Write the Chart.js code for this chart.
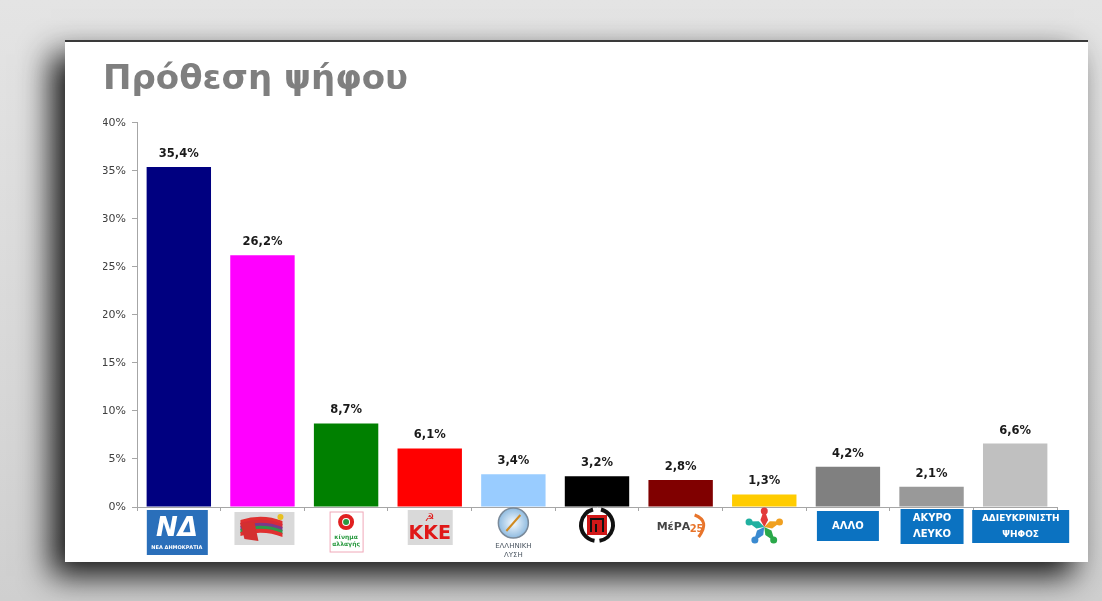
<!DOCTYPE html>
<html>
<head>
<meta charset="utf-8">
<script src="https://cdn.jsdelivr.net/npm/chart.js@4/dist/chart.umd.min.js"></script>
<style>
  html, body { margin: 0; padding: 0; }
  body {
    width: 1102px; height: 601px; overflow: hidden; position: relative;
    background: linear-gradient(#e4e4e4, #d6d6d6 70%, #cfcfcf);
  }
  #card {
    position: absolute; left: 65px; top: 40px; width: 1023px; height: 522px;
    background: #fff; border-top: 2px solid #3a3a3a; box-sizing: border-box;
    box-shadow: -14px 14px 30px rgba(0,0,0,0.9);
  }
  #card canvas { position: absolute; left: 0; top: -2px; }
</style>
</head>
<body>
<div id="card"><canvas id="grafico" width="1023" height="522"></canvas></div>
<script>
  // Datos del gráfico
  const partidos = ['ΝΔ', 'ΣΥΡΙΖΑ', 'ΚΙΝΑΛ', 'ΚΚΕ', 'Ελληνική Λύση', 'Χρυσή Αυγή', 'ΜέΡΑ25', 'Πλεύση Ελευθερίας', 'ΑΛΛΟ', 'ΑΚΥΡΟ ΛΕΥΚΟ', 'ΑΔΙΕΥΚΡΙΝΙΣΤΗ ΨΗΦΟΣ'];
  const porcentajes = [35.4, 26.2, 8.7, 6.1, 3.4, 3.2, 2.8, 1.3, 4.2, 2.1, 6.6];
  const coloresBarras = ['#000080', '#ff00ff', '#008000', '#ff0000', '#99ccff', '#000000', '#800000', '#ffcc00', '#808080', '#999999', '#c0c0c0'];
  const ticksY = [0, 5, 10, 15, 20, 25, 30, 35, 40];

  const AZUL = '#0b72c1';

  // Caja azul con texto blanco (ΑΛΛΟ, ΑΚΥΡΟ...)
  function cajaTexto(ctx, x0, y0, w, h, lineas, tam) {
    ctx.fillStyle = AZUL;
    ctx.fillRect(x0, y0, w, h);
    ctx.fillStyle = '#fff';
    ctx.font = 'bold ' + (tam || 10) + 'px "DejaVu Sans"';
    ctx.textAlign = 'center';
    ctx.textBaseline = 'middle';
    const paso = 16;
    const inicio = y0 + h / 2 - (lineas.length - 1) * paso / 2;
    lineas.forEach((l, i) => ctx.fillText(l, x0 + w / 2, inicio + i * paso));
  }

  // Dibujos simplificados de los logos, uno por partido
  const logos = [
    function(ctx, cx, top) { // ΝΔ
      ctx.fillStyle = '#2a6fba';
      ctx.fillRect(cx - 32, top + 3, 61, 45);
      ctx.fillStyle = '#fff';
      ctx.textAlign = 'center';
      ctx.textBaseline = 'middle';
      ctx.font = 'bold italic 26px "DejaVu Sans"';
      ctx.fillText('ΝΔ', cx - 2, top + 22);
      ctx.font = 'bold 5px "DejaVu Sans"';
      ctx.fillText('ΝΕΑ ΔΗΜΟΚΡΑΤΙΑ', cx - 2, top + 41);
    },
    function(ctx, cx, top) { // ΣΥΡΙΖΑ
      ctx.fillStyle = '#d9d9d9';
      ctx.fillRect(cx - 28, top + 5, 60, 33);
      const franjas = ['#e03030', '#d62a3a', '#7a3a8a', '#2e9a4a', '#e03030'];
      franjas.forEach((c, i) => {
        ctx.fillStyle = c;
        ctx.beginPath();
        ctx.moveTo(cx - 22, top + 13 + i * 3);
        ctx.quadraticCurveTo(cx, top + 6 + i * 3, cx + 20, top + 14 + i * 3);
        ctx.lineTo(cx + 20, top + 18 + i * 3);
        ctx.quadraticCurveTo(cx, top + 10 + i * 3, cx - 22, top + 17 + i * 3);
        ctx.fill();
      });
      ctx.fillStyle = '#d43030';
      ctx.beginPath();
      ctx.moveTo(cx - 22, top + 16);
      ctx.lineTo(cx - 8, top + 15);
      ctx.lineTo(cx - 4, top + 34);
      ctx.lineTo(cx - 18, top + 32);
      ctx.fill();
      ctx.fillStyle = '#e8c020';
      ctx.beginPath();
      ctx.arc(cx + 18, top + 10, 3, 0, Math.PI * 2);
      ctx.fill();
    },
    function(ctx, cx, top) { // ΚΙΝΑΛ
      ctx.fillStyle = '#fff';
      ctx.fillRect(cx - 16, top + 5, 33, 40);
      ctx.strokeStyle = '#f0a8b8';
      ctx.lineWidth = 1;
      ctx.strokeRect(cx - 16, top + 5, 33, 40);
      ctx.strokeStyle = '#e02020';
      ctx.lineWidth = 4;
      ctx.beginPath();
      ctx.arc(cx, top + 15, 6, 0, Math.PI * 2);
      ctx.stroke();
      ctx.fillStyle = '#2a9a40';
      ctx.beginPath();
      ctx.arc(cx, top + 15, 3, 0, Math.PI * 2);
      ctx.fill();
      ctx.font = 'bold 6px "DejaVu Sans"';
      ctx.textAlign = 'center';
      ctx.textBaseline = 'middle';
      ctx.fillText('κίνημα', cx, top + 30);
      ctx.fillText('αλλαγής', cx, top + 37);
    },
    function(ctx, cx, top) { // ΚΚΕ
      ctx.fillStyle = '#d9d9d9';
      ctx.fillRect(cx - 22, top + 3, 45, 35);
      ctx.fillStyle = '#e01818';
      ctx.textAlign = 'center';
      ctx.textBaseline = 'middle';
      ctx.font = 'bold 11px "DejaVu Sans"';
      ctx.fillText('☭', cx, top + 11);
      ctx.font = 'bold 19px "DejaVu Sans"';
      ctx.fillText('ΚΚΕ', cx, top + 27);
    },
    function(ctx, cx, top) { // Ελληνική Λύση
      const g = ctx.createRadialGradient(cx, top + 16, 2, cx, top + 16, 15);
      g.addColorStop(0, '#e8f2fb');
      g.addColorStop(1, '#8fbbe0');
      ctx.fillStyle = g;
      ctx.beginPath();
      ctx.arc(cx, top + 16, 15, 0, Math.PI * 2);
      ctx.fill();
      ctx.strokeStyle = '#7a8a9a';
      ctx.lineWidth = 1.5;
      ctx.stroke();
      ctx.strokeStyle = '#d08a20';
      ctx.lineWidth = 2;
      ctx.beginPath();
      ctx.moveTo(cx - 7, top + 24);
      ctx.lineTo(cx + 7, top + 8);
      ctx.stroke();
      ctx.fillStyle = '#4a5560';
      ctx.font = '7px "DejaVu Sans"';
      ctx.textAlign = 'center';
      ctx.textBaseline = 'middle';
      ctx.fillText('ΕΛΛΗΝΙΚΗ', cx, top + 39);
      ctx.fillText('ΛΥΣΗ', cx, top + 48);
    },
    function(ctx, cx, top) { // Χρυσή Αυγή
      ctx.strokeStyle = '#111';
      ctx.lineWidth = 4;
      ctx.beginPath();
      ctx.arc(cx, top + 18, 16, Math.PI * 0.55, Math.PI * 1.42);
      ctx.stroke();
      ctx.beginPath();
      ctx.arc(cx, top + 18, 16, Math.PI * 1.58, Math.PI * 2.45);
      ctx.stroke();
      ctx.fillStyle = '#d01818';
      ctx.fillRect(cx - 10, top + 8, 20, 20);
      ctx.strokeStyle = '#111';
      ctx.lineWidth = 2;
      ctx.beginPath();
      ctx.moveTo(cx - 6, top + 25);
      ctx.lineTo(cx - 6, top + 12);
      ctx.lineTo(cx + 6, top + 12);
      ctx.lineTo(cx + 6, top + 25);
      ctx.moveTo(cx - 1, top + 25);
      ctx.lineTo(cx - 1, top + 17);
      ctx.stroke();
    },
    function(ctx, cx, top) { // ΜέΡΑ25
      ctx.fillStyle = '#444';
      ctx.font = 'bold 11px "DejaVu Sans"';
      ctx.textAlign = 'left';
      ctx.textBaseline = 'middle';
      ctx.fillText('ΜέΡΑ', cx - 24, top + 20);
      ctx.fillStyle = '#e8742a';
      ctx.font = 'bold 10px "DejaVu Sans"';
      ctx.fillText('25', cx + 9, top + 22);
      ctx.strokeStyle = '#e8742a';
      ctx.lineWidth = 3;
      ctx.beginPath();
      ctx.moveTo(cx + 14, top + 8);
      ctx.quadraticCurveTo(cx + 30, top + 14, cx + 18, top + 30);
      ctx.stroke();
    },
    function(ctx, cx, top) { // estrella de colores
      const colores = ['#e23a3a', '#f0a020', '#2aa84a', '#3a8ad0', '#20b0a0'];
      const cy = top + 20;
      for (let i = 0; i < 5; i++) {
        const a = -Math.PI / 2 + i * 2 * Math.PI / 5;
        ctx.fillStyle = colores[i];
        ctx.beginPath();
        ctx.moveTo(cx, cy);
        ctx.lineTo(cx + Math.cos(a - 0.5) * 8, cy + Math.sin(a - 0.5) * 8);
        ctx.lineTo(cx + Math.cos(a) * 18, cy + Math.sin(a) * 18);
        ctx.lineTo(cx + Math.cos(a + 0.5) * 8, cy + Math.sin(a + 0.5) * 8);
        ctx.closePath();
        ctx.fill();
        ctx.beginPath();
        ctx.arc(cx + Math.cos(a) * 16, cy + Math.sin(a) * 16, 3.5, 0, Math.PI * 2);
        ctx.fill();
      }
    },
    function(ctx, cx, top) { cajaTexto(ctx, cx - 31, top + 4, 62, 30, ['ΑΛΛΟ']); },
    function(ctx, cx, top) { cajaTexto(ctx, cx - 31, top + 2, 63, 35, ['ΑΚΥΡΟ', 'ΛΕΥΚΟ']); },
    function(ctx, cx, top) { cajaTexto(ctx, cx - 43, top + 3, 97, 33, ['ΑΔΙΕΥΚΡΙΝΙΣΤΗ', 'ΨΗΦΟΣ'], 9); }
  ];

  // Plugin: etiquetas de valor sobre las barras
  const etiquetasPlugin = {
    id: 'etiquetas',
    afterDatasetsDraw(chart) {
      const ctx = chart.ctx;
      const meta = chart.getDatasetMeta(0);
      ctx.save();
      ctx.font = 'bold 11.5px "DejaVu Sans"';
      ctx.fillStyle = '#1a1a1a';
      ctx.textAlign = 'center';
      ctx.textBaseline = 'middle';
      meta.data.forEach((bar, i) => {
        const txt = porcentajes[i].toFixed(1).replace('.', ',') + '%';
        ctx.fillText(txt, bar.x, bar.y - 13);
      });
      ctx.restore();
    }
  };

  // Plugin: logos debajo del eje X
  const logosPlugin = {
    id: 'logos',
    afterDraw(chart) {
      const ctx = chart.ctx;
      const x = chart.scales.x;
      partidos.forEach((p, i) => {
        ctx.save();
        logos[i](ctx, x.getPixelForValue(i), chart.chartArea.bottom);
        ctx.restore();
      });
    }
  };

  let chartIntencion;

  function crearGrafico() {
    const ctx = document.getElementById('grafico').getContext('2d');
    chartIntencion = new Chart(ctx, {
      type: 'bar',
      data: {
        labels: partidos,
        datasets: [{
          data: porcentajes,
          backgroundColor: coloresBarras,
          borderWidth: 0,
          barPercentage: 0.77,
          categoryPercentage: 1
        }]
      },
      options: {
        responsive: false,
        animation: false,
        layout: { padding: { left: 38, right: 31, top: 0, bottom: 3 } },
        plugins: {
          legend: { display: false },
          tooltip: { enabled: false },
          title: {
            display: true,
            text: 'Πρόθεση ψήφου',
            align: 'start',
            color: '#7f7f7f',
            font: { family: '"DejaVu Sans"', size: 34, weight: 'bold' },
            padding: { top: 20, bottom: 22 }
          }
        },
        scales: {
          x: {
            grid: { display: true, drawOnChartArea: false, tickLength: 4, color: '#a6a6a6' },
            border: { color: '#a6a6a6' },
            ticks: { display: false },
            afterFit(scale) { scale.height = 52; }
          },
          y: {
            min: 0,
            max: 40,
            grid: { display: true, drawOnChartArea: false, tickLength: 5, color: '#a6a6a6' },
            border: { color: '#a6a6a6' },
            afterBuildTicks(scale) { scale.ticks = ticksY.map(v => ({ value: v })); },
            ticks: {
              color: '#404040',
              padding: 6,
              font: { family: '"DejaVu Sans"', size: 11 },
              callback: v => v + '%'
            },
            afterFit(scale) { scale.width = 34; }
          }
        }
      },
      plugins: [etiquetasPlugin, logosPlugin]
    });
  }

  window.onload = function() {
    crearGrafico();
  };
</script>
</body>
</html>
